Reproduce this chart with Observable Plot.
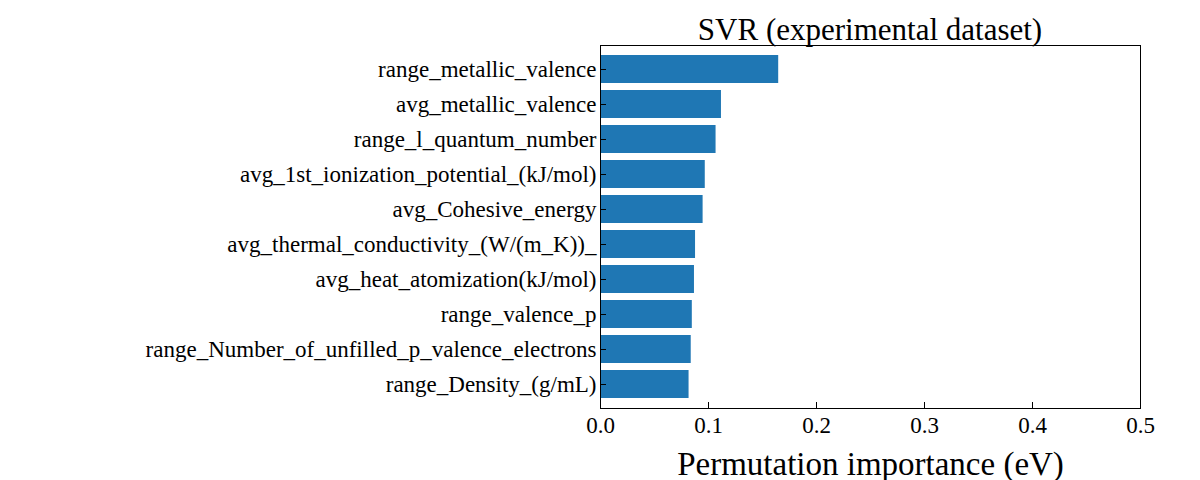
<!DOCTYPE html>
<html><head><meta charset="utf-8">
<script src="https://cdn.jsdelivr.net/npm/d3@7"></script>
<script src="https://cdn.jsdelivr.net/npm/@observablehq/plot@0.6"></script>
<style>
body{margin:0;background:#fff;font-family:"Liberation Serif",serif}
#wrap{position:relative;width:1200px;height:480px}
#title{position:absolute;left:600px;width:540px;top:12px;text-align:center;font-size:31px;color:#000}
</style></head><body>
<div id="wrap"><div id="title">SVR (experimental dataset)</div><div id="chart"></div></div>
<script>
const features = ["range_metallic_valence","avg_metallic_valence","range_l_quantum_number","avg_1st_ionization_potential_(kJ/mol)","avg_Cohesive_energy","avg_thermal_conductivity_(W/(m_K))_","avg_heat_atomization(kJ/mol)","range_valence_p","range_Number_of_unfilled_p_valence_electrons","range_Density_(g/mL)"];
const importance = [0.165,0.112,0.107,0.097,0.095,0.088,0.087,0.085,0.084,0.082];
const xTicks = [0,0.1,0.2,0.3,0.4,0.5];
const data = features.map((f,i)=>({f,v:importance[i]}));

let chart = Plot.plot({
  width:1200, height:480,
  marginLeft:600, marginRight:60, marginTop:45, marginBottom:72,
  style:{fontFamily:"Liberation Serif", fontSize:"23px", color:"#000", background:"#fff"},
  x:{domain:[0,0.5], ticks:xTicks, tickFormat:d3.format(".1f")},
  y:{domain:features, padding:0.2},
  marks:[
    Plot.barX(data,{x:"v", y:"f", fill:"#1f77b4"}),
    Plot.axisX({ticks:xTicks, tickFormat:d3.format(".1f"), tickSize:-6, tickPadding:14,
      label:"Permutation importance (eV)", labelAnchor:"center", labelArrow:"none", labelOffset:66}),
    Plot.axisY({tickSize:-6, tickPadding:10, label:null}),
    Plot.frame({stroke:"#000"})
  ]
});
d3.select('#chart').append(() => chart);
d3.select(chart).selectAll("text").style("font-size","23px");
d3.select(chart).selectAll("[aria-label='x-axis label'] text").style("font-size","33px");
</script></body></html>
